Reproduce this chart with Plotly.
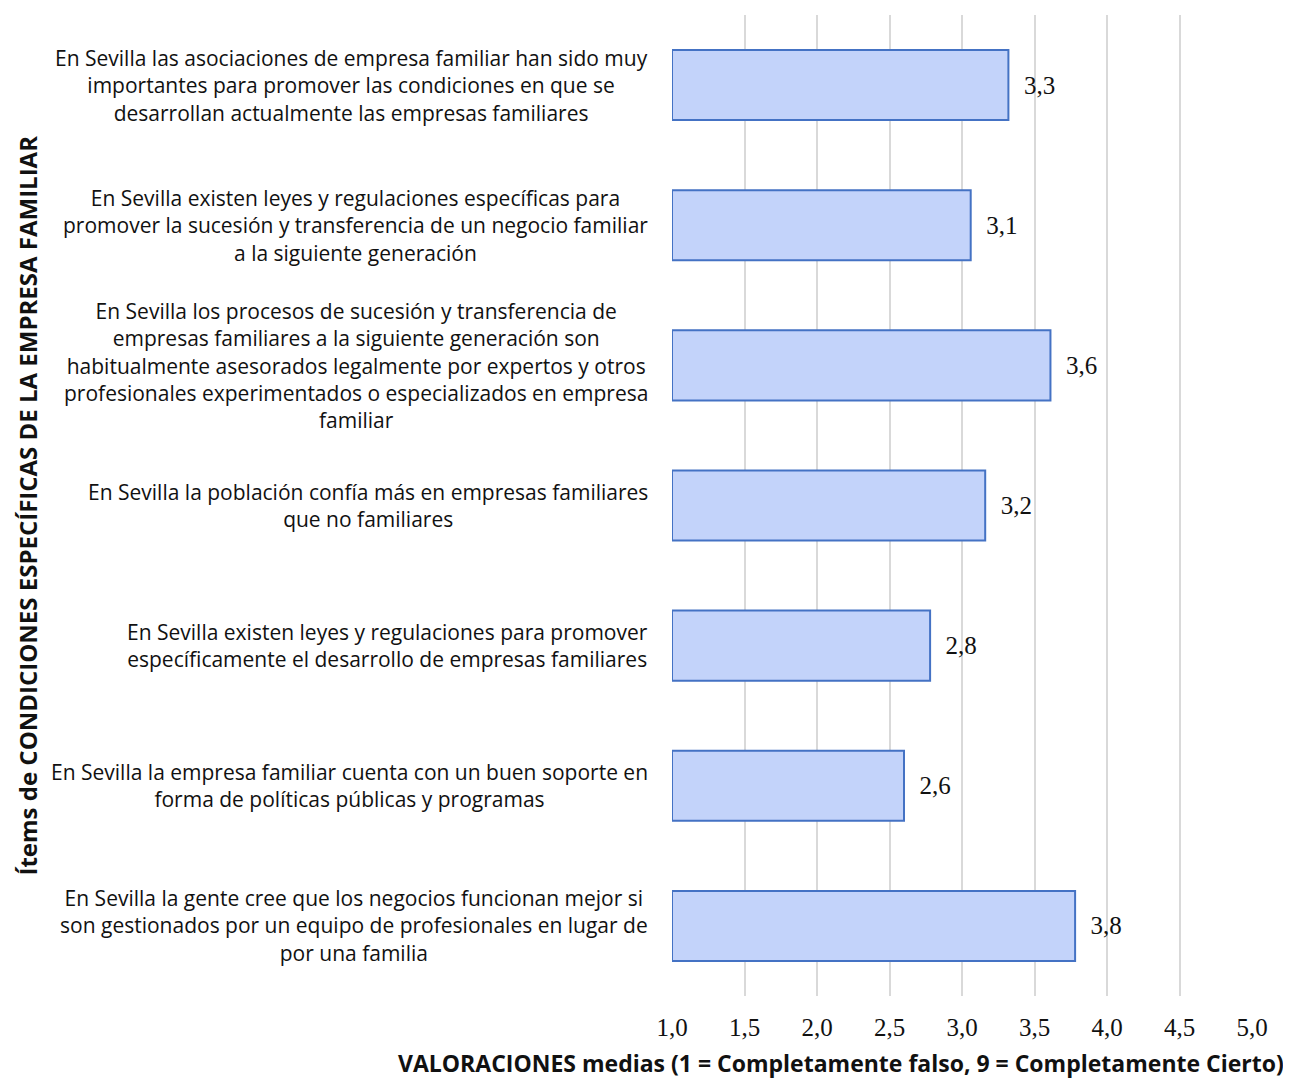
import plotly.graph_objects as go

categories = [
    "En Sevilla las asociaciones de empresa familiar han sido muy<br>importantes para promover las condiciones en que se<br>desarrollan actualmente las empresas familiares",
    "En Sevilla existen leyes y regulaciones específicas para<br>promover la sucesión y transferencia de un negocio familiar<br>a la siguiente generación",
    "En Sevilla los procesos de sucesión y transferencia de<br>empresas familiares a la siguiente generación son<br>habitualmente asesorados legalmente por expertos y otros<br>profesionales experimentados o especializados en empresa<br>familiar",
    "En Sevilla la población confía más en empresas familiares<br>que no familiares",
    "En Sevilla existen leyes y regulaciones para promover<br>específicamente el desarrollo de empresas familiares",
    "En Sevilla la empresa familiar cuenta con un buen soporte en<br>forma de políticas públicas y programas",
    "En Sevilla la gente cree que los negocios funcionan mejor si<br>son gestionados por un equipo de profesionales en lugar de<br>por una familia",
]
values = [3.32, 3.06, 3.61, 3.16, 2.78, 2.60, 3.78]
tick_vals = [1.0, 1.5, 2.0, 2.5, 3.0, 3.5, 4.0, 4.5, 5.0]
tick_text = ["1,0", "1,5", "2,0", "2,5", "3,0", "3,5", "4,0", "4,5", "5,0"]
value_labels = ["\u00a0\u00a0" + f"{v:.1f}".replace(".", ",") for v in values]

ids = list(range(len(categories)))

fig = go.Figure()
fig.add_trace(go.Bar(
    y=ids,
    x=[v - 1.0 for v in values],
    base=1.0,
    orientation="h",
    width=0.5,
    marker=dict(color="#C3D3FA", line=dict(color="#4472C4", width=2)),
    text=value_labels,
    textposition="outside",
    textfont=dict(family="Liberation Serif", size=25, color="#111111"),
    cliponaxis=False,
    hoverinfo="skip",
))

for i, c in enumerate(categories):
    fig.add_annotation(
        x=0, xref="paper", xshift=-22, y=i, yref="y",
        text=c, showarrow=False, xanchor="right", yanchor="middle",
        align="center",
        font=dict(family="Open Sans", size=21, color="#111111"),
    )

fig.add_annotation(
    x=0, xref="paper", y=0.5, yref="paper", xshift=-645,
    text="<b>Ítems de CONDICIONES ESPECÍFICAS DE LA EMPRESA FAMILIAR</b>",
    textangle=-90, showarrow=False, xanchor="center", yanchor="middle",
    font=dict(family="Open Sans", size=24, color="#111111"),
)
fig.add_annotation(
    x=1, xref="paper", y=0, yref="paper", xshift=34,
    text="<b>VALORACIONES medias (1 = Completamente falso, 9 = Completamente Cierto)</b>",
    showarrow=False, xanchor="right", yanchor="top", yshift=-49,
    font=dict(family="Open Sans", size=23, color="#111111"),
)

fig.update_layout(
    width=1291, height=1079,
    margin=dict(l=664, r=47, t=7, b=91),
    paper_bgcolor="white", plot_bgcolor="white",
    showlegend=False,
    bargap=0.5,
)
fig.update_xaxes(
    range=[1.0, 5.0], tickvals=tick_vals, ticktext=tick_text,
    showgrid=True, gridcolor="#D9D9D9", gridwidth=2,
    zeroline=False, showline=False, automargin=False,
    tickfont=dict(family="Liberation Serif", size=25, color="#111111"),
    ticks="", ticklabelstandoff=14,
)
fig.update_yaxes(
    range=[len(categories) - 0.5, -0.5], automargin=False,
    showticklabels=False, showgrid=False, zeroline=False, showline=False,
)

fig.write_html("out.html")
